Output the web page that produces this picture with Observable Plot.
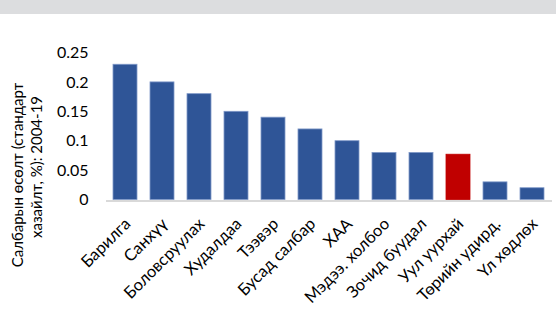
<!DOCTYPE html>
<html>
<head>
<meta charset="utf-8">
<script src="https://cdn.jsdelivr.net/npm/d3@7"></script>
<script src="https://cdn.jsdelivr.net/npm/@observablehq/plot@0.6"></script>
<style>
  html, body { margin: 0; padding: 0; background: #fff; }
  #band { height: 14px; background: #dcdddf; width: 556px; }
  #chart svg { display: block; }
</style>
</head>
<body>
<div id="band"></div>
<div id="chart"></div>
<script>
const categories = ["Барилга", "Санхүү", "Боловсруулах", "Худалдаа", "Тээвэр", "Бусад салбар", "ХАА", "Мэдээ. холбоо", "Зочид буудал", "Уул уурхай", "Төрийн удирд.", "Үл хөдлөх"];
const values = [0.23, 0.20, 0.18, 0.15, 0.14, 0.12, 0.10, 0.08, 0.08, 0.077, 0.03, 0.02];
const highlighted = ["Уул уурхай"];
const yTicks = [0, 0.05, 0.1, 0.15, 0.2, 0.25];
const yTickLabels = ["0", "0.05", "0.1", "0.15", "0.2", "0.25"];
const yTitleLines = ["Салбарын өсөлт (стандарт", "хазайлт, %): 2004-19"];

const data = categories.map((c, i) => ({sector: c, value: values[i], hi: highlighted.includes(c)}));
const BLUE = "#2f5597", RED = "#c00000";
const FONT = "Lato, 'Noto Sans', sans-serif";

const chart = Plot.plot({
  width: 556,
  height: 314,
  marginLeft: 106,
  marginRight: 4,
  marginTop: 38.5,
  marginBottom: 128.5,
  style: {fontFamily: FONT, fontSize: "15px", color: "#000", background: "#fff"},
  x: {domain: categories, paddingInner: 0.35, paddingOuter: 0.175, axis: null},
  y: {domain: [0, 0.25], axis: null},
  marks: [
    Plot.barY(data, {x: "sector", y: "value", fill: d => d.hi ? RED : BLUE,
      stroke: d => d.hi ? RED : "#7f98c8", strokeWidth: 0.8}),
    Plot.ruleY([0], {stroke: "#d9d9d9", strokeWidth: 2, dy: 1}),
    Plot.axisY(yTicks, {tickSize: 0, tickPadding: 18, label: null,
      tickFormat: d => yTickLabels[yTicks.indexOf(d)], fontSize: 16, fill: "#000"}),
    Plot.text(categories, {x: d => d, frameAnchor: "bottom", rotate: -45,
      textAnchor: "end", lineAnchor: "bottom", dx: 6, dy: 25, fontSize: 16.5, fill: "#000"}),
    Plot.text([yTitleLines[0]], {frameAnchor: "left", rotate: -90, textAnchor: "middle",
      lineAnchor: "middle", dx: -88, dy: 48.5, fontSize: 15, fill: "#000"}),
    Plot.text([yTitleLines[1]], {frameAnchor: "left", rotate: -90, textAnchor: "middle",
      lineAnchor: "middle", dx: -69, dy: 40.5, fontSize: 15, fill: "#000"})
  ]
});
document.getElementById("chart").appendChild(chart);
</script>
</body>
</html>
